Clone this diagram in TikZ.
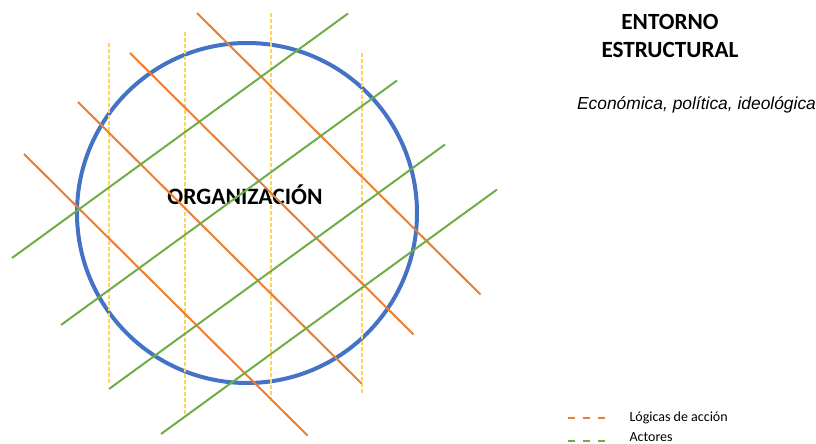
\documentclass[tikz,border=0pt]{standalone}
\usepackage{fontspec}
\setmainfont{Carlito}
\newfontfamily\arialfont{Liberation Sans}
\definecolor{orgblue}{RGB}{68, 114, 196}
\definecolor{logorange}{RGB}{237, 125, 49}
\definecolor{actgreen}{RGB}{112, 173, 71}
\definecolor{envyellow}{RGB}{255, 210, 90}
\usetikzlibrary{positioning}

\begin{document}
\begin{tikzpicture}[x=1pt, y=-1pt,
  orgcircle/.style={draw=orgblue, line width=4pt},
  logline/.style={draw=logorange, line width=2pt},
  actline/.style={draw=actgreen, line width=2pt},
  envline/.style={draw=envyellow, line width=1.2pt, dash pattern=on 4pt off 2pt},
  legdash/.style={line width=2pt, dash pattern=on 7pt off 8pt}]
  \useasboundingbox (0, 0) rectangle (816, 444);

  % Organization
  \draw[orgcircle] (247, 213) circle (170pt);

  % Structural environment (vertical dashed)
  \foreach \x/\ya/\yb in {109/43/383, 185/32/417, 271/13/402, 362/53/393}
    \draw[envline] (\x, \ya) -- (\x, \yb);

  \node[font=\fontsize{23.5}{28}\selectfont\bfseries] (org) at (245, 195) {ORGANIZACIÓN};

  % Logics of action
  \foreach \xa/\ya in {197/13, 130/53, 78/102, 24/154}
    \draw[logline] (\xa, \ya) -- ++(283.5, 281.5);

  % Actors
  \foreach \xa/\ya in {12/258, 61/325, 109/389, 161/434}
    \draw[actline] (\xa, \ya) -- ++(336, -244.5);

  % Environment labels
  \node[font=\fontsize{23.2}{28}\selectfont\bfseries, align=center] (entorno) at (670, 36) {ENTORNO\\ESTRUCTURAL};
  \node[font=\arialfont\itshape\fontsize{17.4}{21}\selectfont] (dims) at (696.5, 105) {Económica, política, ideológica};

  % Legend
  \node[font=\fontsize{14}{16}\selectfont, anchor=west] (leglog) at (626, 418) {Lógicas de acción};
  \node[font=\fontsize{14}{16}\selectfont, anchor=west] (legact) at (626, 437) {Actores};
  \draw[legdash, logorange] ([xshift=-58pt]leglog.west) -- ++(38, 0);
  \draw[legdash, actgreen] ([xshift=-58pt, yshift=-4pt]legact.west) -- ++(38, 0);
\end{tikzpicture}
\end{document}
